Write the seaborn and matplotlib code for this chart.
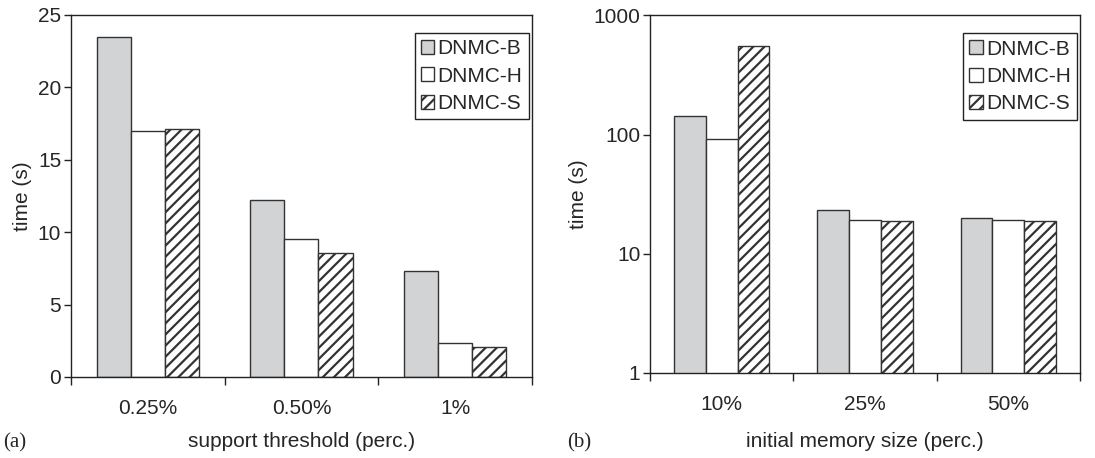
import pandas as pd
import numpy as np
import matplotlib
matplotlib.use('Agg')
import matplotlib.pyplot as plt
import matplotlib.ticker as mticker
from matplotlib.patches import Patch
import seaborn as sns

# =============================================================================
# #Data
# =============================================================================
methods = ['DNMC-B', 'DNMC-H', 'DNMC-S']

support_labels = ['0.25%', '0.50%', '1%']
support_b = [23.5, 12.2, 7.35]
support_h = [17.0, 9.55, 2.37]
support_s = [17.1, 8.55, 2.05]

memory_labels = ['10%', '25%', '50%']
memory_b = [143, 23.4, 20.0]
memory_h = [91.5, 19.4, 19.4]
memory_s = [555, 18.8, 18.7]


def long_table(cats, b, h, s):
    rows = []
    for vals, m in zip([b, h, s], methods):
        for c, v in zip(cats, vals):
            rows.append({'cat': c, 'method': m, 'time': v})
    return pd.DataFrame(rows)


df_a = long_table(support_labels, support_b, support_h, support_s)
df_b = long_table(memory_labels, memory_b, memory_h, memory_s)

sns.set_theme(style='white')
plt.rcParams['font.family'] = ['Liberation Sans', 'DejaVu Sans']
plt.rcParams['hatch.linewidth'] = 1.6
plt.rcParams['hatch.color'] = '#111111'

pal = {'DNMC-B': '#d2d3d5', 'DNMC-H': '#ffffff', 'DNMC-S': '#ffffff'}
edge = '#333333'
HATCH = '///'

fig = plt.figure(figsize=(10.95, 4.58), dpi=100)
ax1 = fig.add_axes([0.0648, 0.1769, 0.4210, 0.7904])
ax2 = fig.add_axes([0.5936, 0.1856, 0.3927, 0.7806])


def draw(ax, df):
    sns.barplot(data=df, x='cat', y='time', hue='method', palette=pal,
                width=0.665, edgecolor=edge, linewidth=1.0, saturation=1,
                ax=ax, legend=False)
    # hatch the DNMC-S bars (third container)
    for bar in ax.containers[2]:
        bar.set_hatch(HATCH)
    ax.set_xlim(-0.5, 2.5)
    ax.set_xlabel('')
    ax.set_ylabel('time (s)', fontsize=15, labelpad=4)
    ax.tick_params(axis='x', which='major', length=0, labelsize=15, pad=16)
    ax.xaxis.set_minor_locator(mticker.FixedLocator([-0.5, 0.5, 1.5, 2.5]))
    ax.tick_params(axis='x', which='minor', length=6, width=1, color='#222222', direction='out', bottom=True)
    ax.tick_params(axis='y', which='major', length=5, width=1, color='#222222', direction='out', left=True, labelsize=15, pad=2)
    ax.tick_params(axis='y', which='minor', length=0)
    for sp in ax.spines.values():
        sp.set_color('#222222')
        sp.set_linewidth(1.0)
    handles = [Patch(facecolor=pal[m], edgecolor=edge, linewidth=1.0,
                     hatch=HATCH if m == 'DNMC-S' else None) for m in methods]
    leg = ax.legend(handles, methods, loc='upper right', bbox_to_anchor=(0.993, 0.95),
                    fontsize=15, frameon=True, fancybox=False, framealpha=1,
                    edgecolor='#222222', handlelength=0.65, handleheight=0.65,
                    handletextpad=0.15, borderpad=0.3, labelspacing=0.4,
                    borderaxespad=0.0)
    leg.get_frame().set_linewidth(1.0)


draw(ax1, df_a)
ax1.set_ylim(0, 25)
ax1.set_yticks([0, 5, 10, 15, 20, 25])

draw(ax2, df_b)
ax2.set_yscale('log')
ax2.set_ylim(1, 1000)
ax2.set_yticks([1, 10, 100, 1000])
ax2.yaxis.set_major_formatter(mticker.FuncFormatter(lambda v, p: '%d' % v))
ax2.yaxis.set_minor_locator(mticker.NullLocator())

fig.text(0.0648 + 0.4210 / 2, 0.025, 'support threshold (perc.)', ha='center', fontsize=15)
fig.text(0.5936 + 0.3927 / 2, 0.025, 'initial memory size (perc.)', ha='center', fontsize=15)
fig.text(0.003, 0.022, '(a)', fontsize=15, family=['Liberation Serif'])
fig.text(0.518, 0.022, '(b)', fontsize=15, family=['Liberation Serif'])

fig.savefig('out.png', dpi=100)
